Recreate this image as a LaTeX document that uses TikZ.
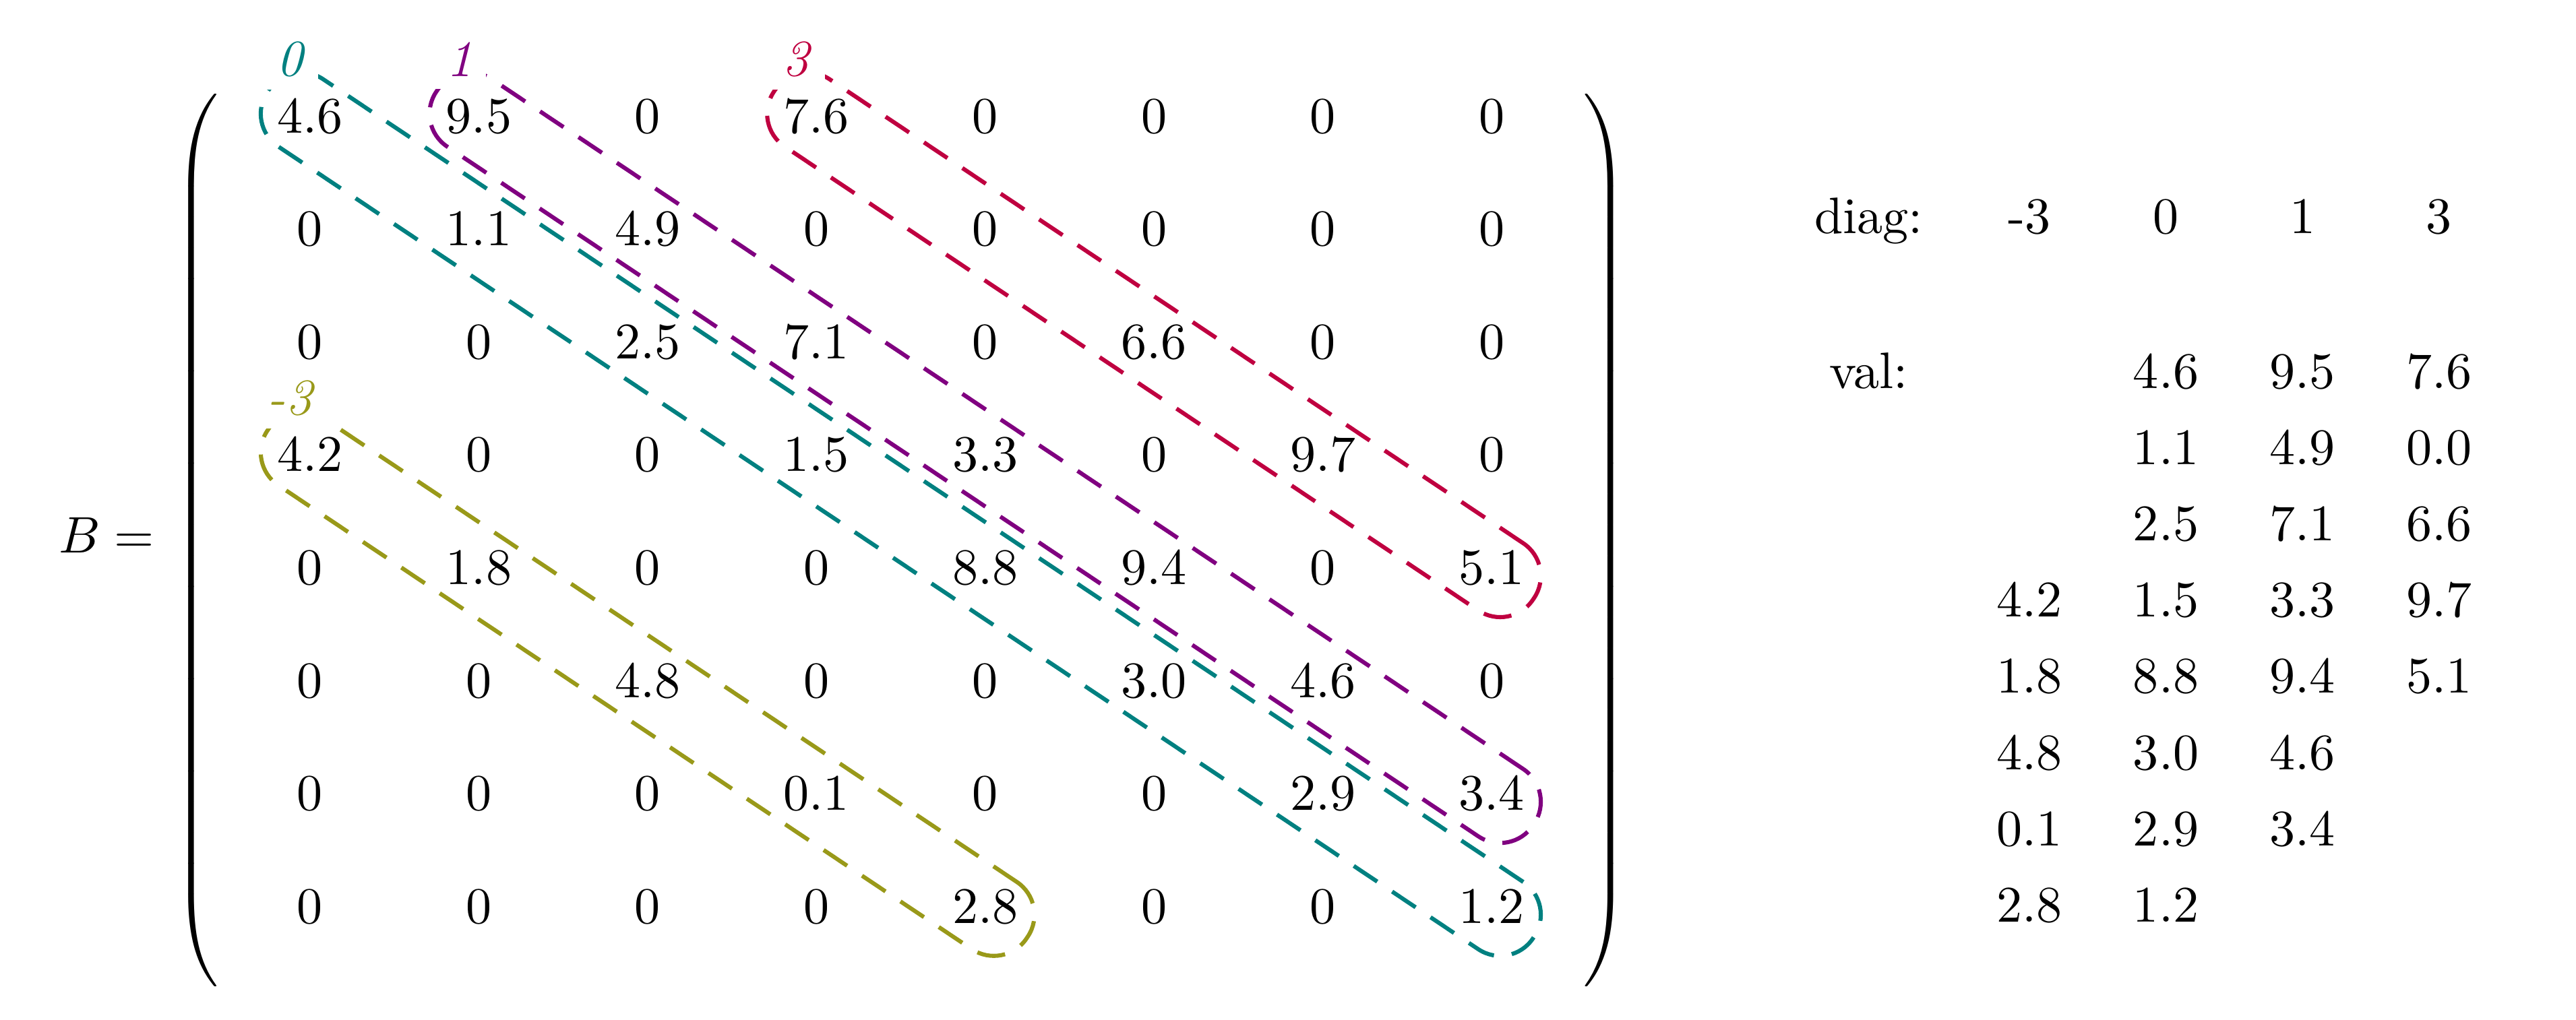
\documentclass[tikz,border=0pt]{standalone}
\usetikzlibrary{matrix,fit,positioning}

\definecolor{diagzero}{rgb}{0,0.5,0.5}
\definecolor{diagone}{rgb}{0.5,0,0.5}
\definecolor{diagthree}{rgb}{0.75,0,0.25}
\definecolor{diagminus}{rgb}{0.6,0.6,0.1}

\tikzset{
  cell/.style={minimum width=1.156cm, minimum height=0.7736cm, inner sep=0pt, text height=1.5ex, text depth=0.25ex},
  entry/.style={minimum width=0.935cm, minimum height=0.522cm, inner sep=0pt, text height=1.5ex, text depth=0.25ex},
  diagbox/.style={draw, line width=0.8pt, dash pattern=on 5.5pt off 3.5pt, rounded corners=0.27cm, inner xsep=0.346cm, inner ysep=0.277cm, rotate fit=-33.79},
  dlabel/.style={fill=white, inner sep=2.5pt},
  every delimiter/.style={yshift=-0.18cm}
}

\begin{document}
\begin{tikzpicture}

    % Fix the page size
    \useasboundingbox (0,0) rectangle (17.64,6.986);

    % The sparse matrix B
    \node[anchor=base] (Beq) at (0.73,3.20) {$B =$};
    \matrix (B) [matrix of nodes, nodes={cell}, inner sep=0pt, left delimiter=(, right delimiter=)] at (6.169,3.4635) {
      4.6 & 9.5 & 0   & 7.6 & 0   & 0   & 0   & 0   \\
      0   & 1.1 & 4.9 & 0   & 0   & 0   & 0   & 0   \\
      0   & 0   & 2.5 & 7.1 & 0   & 6.6 & 0   & 0   \\
      4.2 & 0   & 0   & 1.5 & 3.3 & 0   & 9.7 & 0   \\
      0   & 1.8 & 0   & 0   & 8.8 & 9.4 & 0   & 5.1 \\
      0   & 0   & 4.8 & 0   & 0   & 3.0 & 4.6 & 0   \\
      0   & 0   & 0   & 0.1 & 0   & 0   & 2.9 & 3.4 \\
      0   & 0   & 0   & 0   & 2.8 & 0   & 0   & 1.2 \\
    };

    % Dashed boxes round the stored diagonals
    \node[diagbox, diagzero, fit=(B-1-1.center)(B-8-8.center)] (d0) {};
    \node[diagbox, diagone, fit=(B-1-2.center)(B-7-8.center)] (d1) {};
    \node[diagbox, diagthree, fit=(B-1-4.center)(B-5-8.center)] (d3) {};
    \node[diagbox, diagminus, fit=(B-4-1.center)(B-8-5.center)] (dm3) {};

    % Offsets of the diagonals
    \node[dlabel, text=diagzero] (l0) at ([shift={(-0.13,0.41)}]B-1-1.center) {\textit{0}};
    \node[dlabel, text=diagone] (l1) at ([shift={(-0.13,0.41)}]B-1-2.center) {\textit{1}};
    \node[dlabel, text=diagthree] (l3) at ([shift={(-0.13,0.41)}]B-1-4.center) {\textit{3}};
    \node[dlabel, text=diagminus] (lm3) at ([shift={(-0.13,0.41)}]B-4-1.center) {\textit{-3}};

    % DIA storage: offsets and values
    \matrix (dia) [matrix of nodes, nodes={entry}, inner sep=0pt, anchor=north west,
                   column 1/.style={nodes={minimum width=1.265cm}}] at (12.1575,5.749) {
      diag: & -3  & 0   & 1   & 3   \\[0.539cm]
      val:  &     & 4.6 & 9.5 & 7.6 \\
            &     & 1.1 & 4.9 & 0.0 \\
            &     & 2.5 & 7.1 & 6.6 \\
            & 4.2 & 1.5 & 3.3 & 9.7 \\
            & 1.8 & 8.8 & 9.4 & 5.1 \\
            & 4.8 & 3.0 & 4.6 &     \\
            & 0.1 & 2.9 & 3.4 &     \\
            & 2.8 & 1.2 &     &     \\
    };

\end{tikzpicture}
\end{document}
